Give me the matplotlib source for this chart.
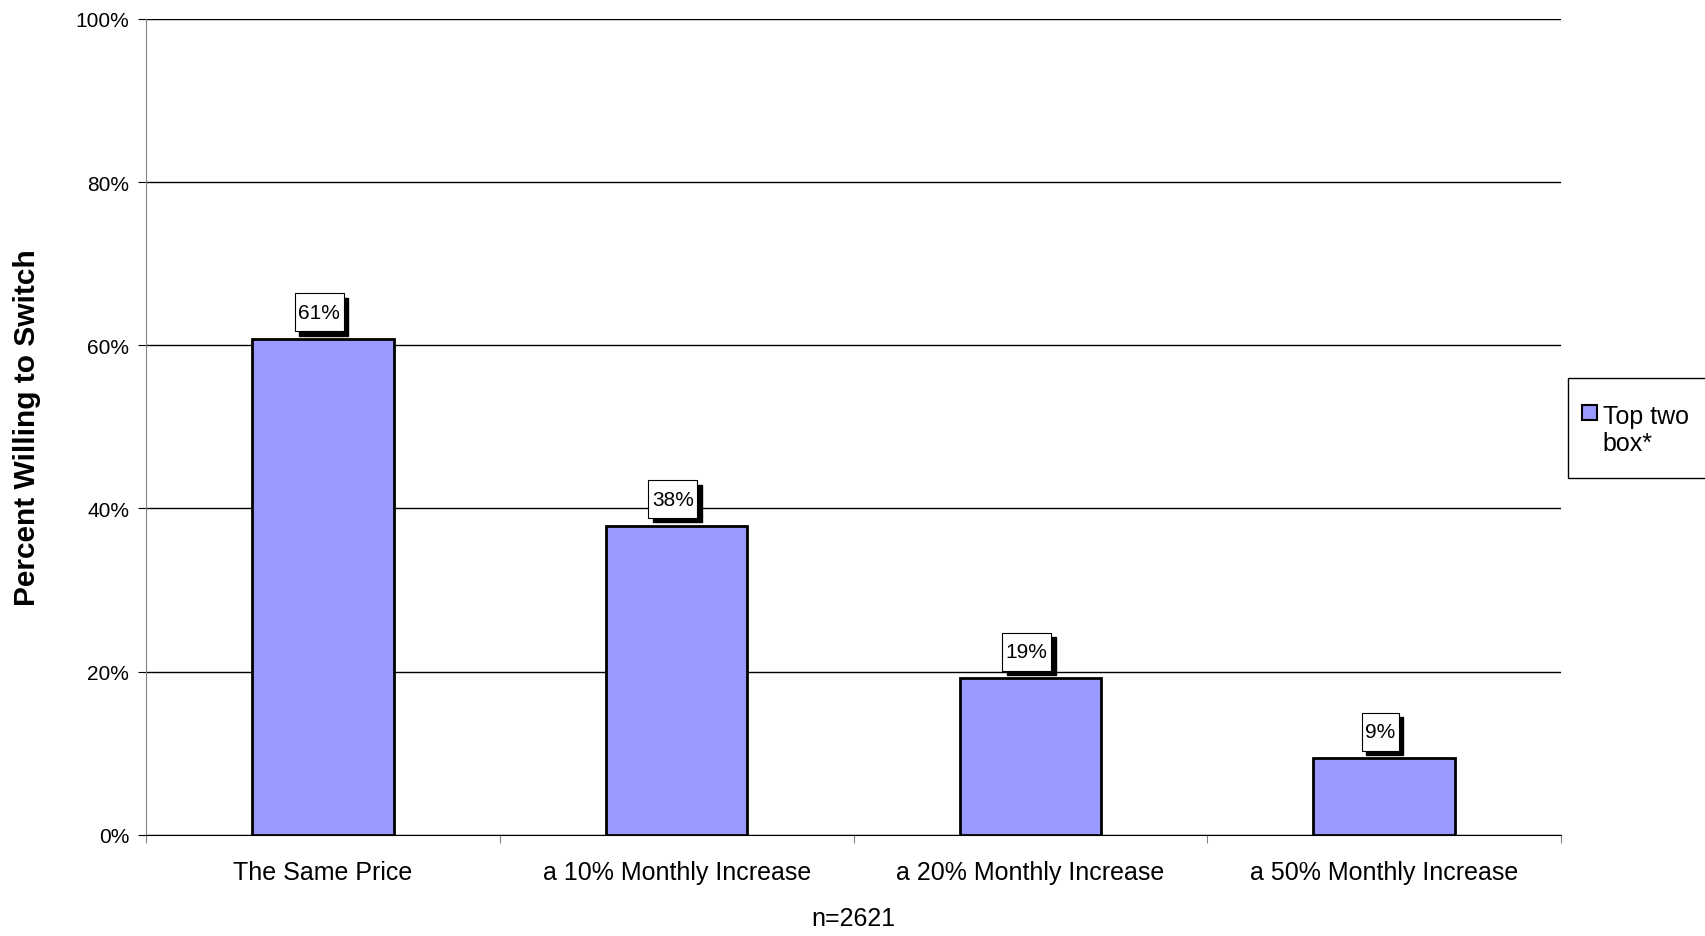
import matplotlib
matplotlib.use('Agg')
import matplotlib.pyplot as plt
from matplotlib.patches import Rectangle
from matplotlib.path import Path

plt.rcParams['font.family'] = ['Liberation Sans', 'DejaVu Sans']

# chart data
categories = ['The Same Price', 'a 10% Monthly Increase',
              'a 20% Monthly Increase', 'a 50% Monthly Increase']
top_two_box = [60.8, 37.9, 19.2, 9.4]
yticks = [0, 20, 40, 60, 80, 100]
ytick_labels = ['0%', '20%', '40%', '60%', '80%', '100%']


def label_box(x0, y0, width, height, mutation_size):
    # square box with more padding top/bottom than left/right
    px = 0.17 * mutation_size
    py = 0.45 * mutation_size
    x0, y0 = x0 - px, y0 - py
    x1, y1 = x0 + width + 2 * px, y0 + height + 2 * py
    return Path([(x0, y0), (x1, y0), (x1, y1), (x0, y1), (x0, y0)],
                closed=True)


fig = plt.figure(figsize=(17.06, 9.37), dpi=100)
ax = fig.add_axes([0.0856, 0.108, 0.8294, 0.8707])

x = [i + 0.5 for i in range(len(categories))]
ax.bar(x, top_two_box, width=0.4, color='#9999FF', edgecolor='black',
       linewidth=2, zorder=3)

ax.set_xlim(0, 4)
ax.set_ylim(0, 100)
ax.set_yticks(yticks)
ax.set_yticklabels(ytick_labels, fontsize=15)
ax.yaxis.grid(True, color='black', linewidth=1)
ax.set_axisbelow(True)

# category ticks between the groups, labels at the centres
ax.set_xticks([0, 1, 2, 3, 4])
ax.set_xticklabels([])
ax.set_xticks(x, minor=True)
ax.set_xticklabels(categories, minor=True, fontsize=18)
ax.tick_params(axis='x', which='minor', length=0, pad=18)
ax.tick_params(axis='x', which='major', length=6, color='#808080')
ax.tick_params(axis='y', length=6, pad=6, color='black')

for s in ['top', 'right']:
    ax.spines[s].set_visible(False)
ax.spines['left'].set_color('#808080')
ax.spines['bottom'].set_color('black')

ax.set_ylabel('Percent Willing to Switch', fontsize=21.5, fontweight='bold')
ax.yaxis.set_label_coords(-0.074, 0.5)
ax.set_xlabel('n=2621', fontsize=18, labelpad=16)

# value labels with a drop shadow
for xi, v in zip(x, top_two_box):
    lab = f'{round(v)}%'
    ax.annotate(lab, (xi, v), xytext=(0.5, 9), textcoords='offset points',
                ha='center', va='bottom', fontsize=15, color='black', alpha=0,
                bbox=dict(boxstyle=label_box, fc='black', ec='black'),
                zorder=4)
    ax.annotate(lab, (xi, v), xytext=(-2.7, 12.2), textcoords='offset points',
                ha='center', va='bottom', fontsize=15, color='black',
                bbox=dict(boxstyle=label_box, fc='white', ec='black', lw=0.8),
                zorder=5)

# legend box, partly cut off at the right edge like the original
fig.patches.append(Rectangle((0.919, 0.489), 0.12, 0.106,
                             transform=fig.transFigure, fc='white',
                             ec='black', lw=1))
fig.patches.append(Rectangle((0.9275, 0.551), 0.0085, 0.0155,
                             transform=fig.transFigure, fc='#9999FF',
                             ec='black', lw=1.5))
fig.text(0.9395, 0.541, 'Top two\nbox*', fontsize=18, va='center',
         ha='left', linespacing=1.15)

fig.savefig('out.png', dpi=100)
